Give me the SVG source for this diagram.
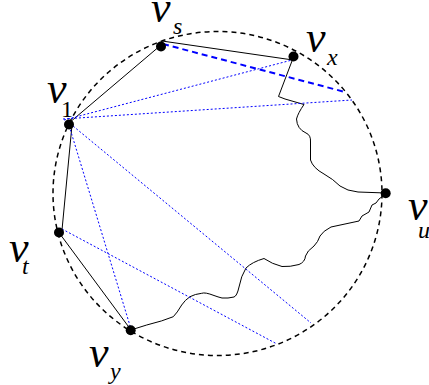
<svg xmlns="http://www.w3.org/2000/svg" width="429" height="385" viewBox="0 0 429 385">
<style>
.circ{fill:none;stroke:#000;stroke-width:1.5;stroke-dasharray:5 4}
.edge{fill:none;stroke:#000;stroke-width:1}
.dot{stroke:#0000ff;stroke-width:1;stroke-dasharray:2 2;fill:none}
.dash{stroke:#0000ff;stroke-width:2;stroke-dasharray:6 4;fill:none}
.node{fill:#000}
.lbl{font-family:"Liberation Serif","Times New Roman",serif;font-style:italic;fill:#000}
.up{font-style:normal}
.v{font-size:44px}
.sub{font-size:24px}
</style>
<rect width="429" height="385" fill="#fff"/>
<ellipse class="circ" cx="217.5" cy="193.5" rx="164.5" ry="162"/>
<g id="connectors">
<line class="edge" x1="69" y1="123" x2="161" y2="45"/>
<line class="edge" x1="162" y1="41" x2="293" y2="60"/>
<line class="edge" x1="72" y1="125" x2="62" y2="230"/>
<line class="edge" x1="60" y1="234" x2="131" y2="330"/>
<path class="edge" d="M293.5,57 L278.5,96.5 L285,99 L304,104.5 Q298,113 296.5,119 Q297,129 306,133 Q311,135 310.5,142 L310.5,160 Q313,168 324,174 Q333,179 340,186 Q347,191 358,192 L386,193"/>
<path class="edge" d="M385.5,194 L379,199 L376,203 L372,205 L369,212 L362,216 L359,221 Q345,224 331,227 Q323,231 320,236 Q318,242 314,246 Q307,251 305.5,256 Q305,262 299,264.5 Q290,267 282,266.5 Q272,264 264,258.5 Q252,262 246,268 Q241,276 239,287 Q237,296 234,297 Q228,298.5 222,298 Q218,297 214,295.5 Q205,292 201.7,293.3 Q195,294 190,296.7 Q185,300 181.7,305 Q177,313 173.3,316.7 Q163,321 146.7,325 L130.7,330"/>
<line class="dash" x1="163" y1="44" x2="345" y2="92"/>
<line class="dot" x1="64" y1="120" x2="292" y2="60"/>
<line class="dot" x1="63" y1="119" x2="352" y2="100"/>
<line class="dot" x1="68" y1="122" x2="131" y2="329"/>
<line class="dot" x1="67" y1="121" x2="311" y2="323"/>
<line class="dot" x1="62" y1="229" x2="277" y2="344"/>
</g>
<g id="v_s"><circle class="node" cx="161" cy="46.5" r="5"/><text class="lbl v" x="151" y="22">v</text><text class="lbl sub" x="173" y="34">s</text></g>
<g id="v_x"><circle class="node" cx="293.5" cy="56.5" r="5"/><text class="lbl v" x="306" y="52">v</text><text class="lbl sub" x="327" y="65">x</text></g>
<g id="v_1"><circle class="node" cx="69" cy="124.5" r="5"/><text class="lbl v" x="47" y="103">v</text><text class="lbl up sub" x="61" y="117">1</text></g>
<g id="v_t"><circle class="node" cx="59" cy="232.5" r="5"/><text class="lbl v" x="9" y="262">v</text><text class="lbl sub" x="22" y="274">t</text></g>
<g id="v_y"><circle class="node" cx="130.7" cy="330.3" r="5"/><text class="lbl v" x="89" y="367">v</text><text class="lbl sub" x="110" y="379">y</text></g>
<g id="v_u"><circle class="node" cx="385.7" cy="193.3" r="5"/><text class="lbl v" x="408" y="220">v</text><text class="lbl sub" x="418" y="238">u</text></g>
</svg>
